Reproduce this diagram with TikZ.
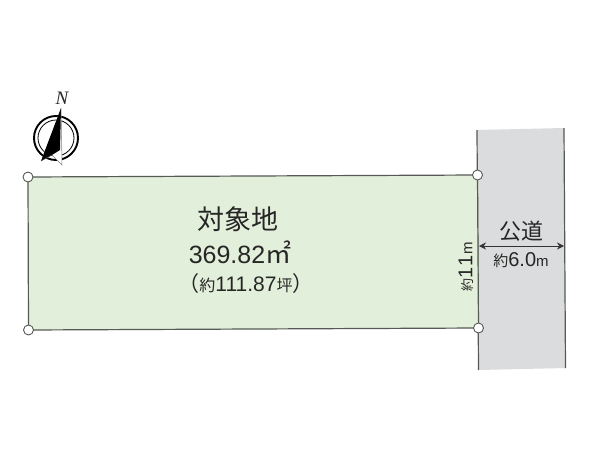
\documentclass[tikz,border=0pt]{standalone}
\usepackage{fontspec}
\setmainfont{Liberation Sans}
\newfontfamily\cjk{Noto Sans CJK JP}
\newfontfamily\northfont{Liberation Serif}
\usetikzlibrary{arrows.meta}
\definecolor{lotgreen}{RGB}{226,239,218}
\definecolor{roadgray}{RGB}{219,220,221}
\definecolor{edgegray}{RGB}{85,90,85}

\tikzset{
    corner/.style={circle, draw=edgegray, fill=white, line width=0.9pt, minimum size=10pt, inner sep=0pt},
    edge/.style={draw=edgegray, line width=1.2pt},
    label/.style={inner sep=0pt, text=black!85}
}

\begin{document}
\begin{tikzpicture}[x=1pt, y=-1pt]
    \useasboundingbox (0,0) rectangle (600,450);
    \fill[white] (0,0) rectangle (600,450);

    % The road
    \coordinate (roadTL) at (477,130);
    \coordinate (roadTR) at (564,128);
    \coordinate (roadBR) at (565.5,368);
    \coordinate (roadBL) at (478.5,370);
    \fill[roadgray] (roadTL) -- (roadTR) -- (roadBR) -- (roadBL) -- cycle;
    \draw[edge] (roadTL) -- (roadBL);
    \draw[edge] (roadTR) -- (roadBR);

    % The lot
    \coordinate (lotTL) at (28,177);
    \coordinate (lotTR) at (477.5,175);
    \coordinate (lotBR) at (478.5,328);
    \coordinate (lotBL) at (28.5,330);
    \fill[lotgreen] (lotTL) -- (lotTR) -- (lotBR) -- (lotBL) -- cycle;
    \draw[edge] (lotTL) -- (lotTR) -- (lotBR) -- (lotBL) -- cycle;

    % The four corner marks
    \node[corner] (markTL) at (lotTL) {};
    \node[corner] (markTR) at (lotTR) {};
    \node[corner] (markBR) at (lotBR) {};
    \node[corner] (markBL) at (lotBL) {};

    % Texts of the lot
    \node[label] (lotName) at (238,219) {\cjk\fontsize{27}{27}\selectfont 対象地};
    \node[label] (lotArea) at (240,252) {\fontsize{25}{25}\selectfont 369.82{\cjk\fontsize{26}{26}\selectfont ㎡}};
    \node[label] (lotTsubo) at (246,284) {\fontsize{21}{21}\selectfont {\cjk （\fontsize{16}{16}\selectfont 約}111.87{\cjk\fontsize{16}{16}\selectfont 坪\fontsize{21}{21}\selectfont ）}};
    \node[label, rotate=90] (lotWidth) at (466,267) {{\cjk\fontsize{13}{13}\selectfont 約}\fontsize{20}{20}\selectfont 1\kern1pt 1\kern1pt\fontsize{15}{15}\selectfont m};

    % Texts and width of the road
    \node[label] (roadName) at (521,231) {\cjk\fontsize{22}{22}\selectfont 公道};
    \node[label] (roadWidth) at (521,260) {{\cjk\fontsize{15}{15}\selectfont 約}\fontsize{20}{20}\selectfont 6.0\fontsize{15}{15}\selectfont m};
    \coordinate (widthL) at (479,246);
    \coordinate (widthR) at (564,246);
    \draw[{Stealth[length=7pt,width=7pt]}-{Stealth[length=7pt,width=7pt]}, black!80, line width=0.8pt] (widthL) -- (widthR);

    % North mark
    \coordinate (needleTip) at (61,108);
    \coordinate (needleLeft) at (41,161);
    \coordinate (needleRight) at (62,165);
    \coordinate (needleNotch) at (52,155);
    \draw[line width=1.9pt] (56,138) circle (22);
    \draw[line width=0.8pt] (56,138) circle (18);
    \fill[white] (needleTip) -- (needleLeft) -- (needleNotch) -- (needleRight) -- cycle;
    \fill[black] (needleTip) -- (needleLeft) -- (needleNotch) -- (60,150) -- cycle;
    \draw[black!50, line width=0.5pt] (needleTip) -- (needleRight) -- (needleNotch);
    \draw[black!70, line width=0.5pt] (needleLeft) -- (needleNotch);
    \node[label] (north) at (62,98) {\northfont\itshape\fontsize{19}{19}\selectfont N};
\end{tikzpicture}
\end{document}
